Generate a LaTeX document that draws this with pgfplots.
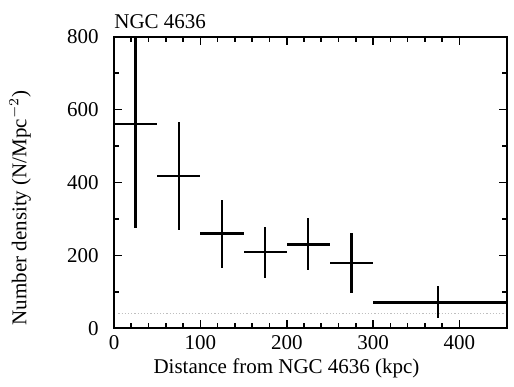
\documentclass[border=0pt]{standalone}
\usepackage{pgfplots}
\pgfplotsset{compat=1.18}
\usepackage{fontspec}
\setmainfont{Liberation Serif}
\begin{document}
\fontsize{10.5}{12}\selectfont
\begin{tikzpicture}
\useasboundingbox (-57pt,-28.85pt) rectangle (200pt,164.15pt);
\begin{axis}[
  name=ax,
  at={(0,0)}, anchor=south west,
  scale only axis, width=196.5pt, height=145.8pt,
  xmin=0, xmax=455, ymin=0, ymax=800,
  xtick={0,100,200,300,400}, ytick={0,200,400,600,800},
  minor x tick num=4, minor y tick num=1,
  tick align=inside, major tick length=4pt, minor tick length=2.5pt,
  axis line style={line width=0.9pt}, every tick/.style={black, line width=0.8pt},
  /pgf/number format/assume math mode=true,
  ticklabel style={font=\fontsize{10.5}{12}\selectfont},
  yticklabel style={xshift=-4pt},
  xlabel={Distance from NGC 4636 (kpc)},
  ylabel={Number density (N/Mpc$^{-2}$)},
  label style={font=\fontsize{10.5}{12}\selectfont},
  xlabel style={at={(axis description cs:0.439,-0.136)}, anchor=center},
  ylabel style={at={(axis description cs:-0.239,0.413)}, anchor=center},
  clip=true,
]
\addplot[gray!50, densely dotted, line width=0.6pt] coordinates {(5,40) (452,40)};
\addplot[black, mark=none, draw=none,
  error bars/.cd, x dir=both, y dir=both, x explicit, y explicit,
  error mark=none, error bar style={black, line width=1.1pt}]
  table[x=x, y=y, x error plus=exp, x error minus=exm, y error plus=eyp, y error minus=eym] {
x   y    exp exm eyp eym
25  560  25  25  300 285
75  418  25  25  149 148
125 260  25  25  92  95
175 210  25  25  69  73
225 230  25  25  72  70
275 180  25  25  81  84
375 71   85  75  45  44
};
\end{axis}
\node[anchor=base west, inner sep=0pt, font=\fontsize{10.5}{12}\selectfont] at ([yshift=4.3pt]ax.north west) {NGC 4636};
\end{tikzpicture}
\end{document}
